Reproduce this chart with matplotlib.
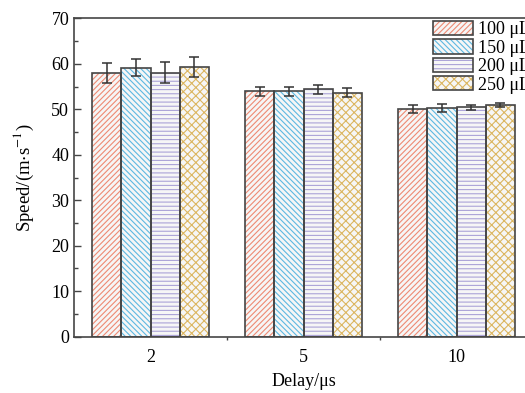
import numpy as np
import matplotlib
matplotlib.use("Agg")
import matplotlib.pyplot as plt
from matplotlib.patches import Patch
from matplotlib.legend_handler import HandlerTuple
from matplotlib.ticker import MultipleLocator, FixedLocator

plt.rcParams["font.family"] = ["Liberation Serif", "DejaVu Serif"]
plt.rcParams["mathtext.fontset"] = "stix"
plt.rcParams["hatch.linewidth"] = 0.8

delays = ["2", "5", "10"]
volumes = ["100 μL", "150 μL", "200 μL", "250 μL"]
speed = [
    [58.0, 54.0, 50.0],
    [59.1, 54.0, 50.3],
    [58.0, 54.4, 50.4],
    [59.3, 53.6, 50.9],
]
speed_err = [
    [2.25, 1.0, 0.9],
    [1.85, 1.0, 0.9],
    [2.3, 0.95, 0.5],
    [2.15, 1.0, 0.5],
]

hatch_colors = ["#ee8a73", "#5db8e2", "#aba3d8", "#dcb660"]
hatches = ["//////", "\\\\\\\\\\\\", "----", "xxxx"]
edge = "#454545"
face = "#f6f6f6"

fig = plt.figure(figsize=(5.25, 3.93), dpi=100)
ax = fig.add_axes([74 / 525, 56.3 / 393, 459 / 525, 318.4 / 393])

x = np.arange(len(delays))
w = 0.19
handles = []
for i in range(len(volumes)):
    pos = x + (i - 1.5) * w
    # hatch drawn in its own colour, outline drawn on top in dark grey
    ax.bar(pos, speed[i], w, color=face, edgecolor=hatch_colors[i],
           hatch=hatches[i], linewidth=0, zorder=2)
    ax.bar(pos, speed[i], w, fill=False, edgecolor=edge, linewidth=1.2, zorder=3)
    ax.errorbar(pos, speed[i], yerr=speed_err[i], fmt="none", ecolor="#333333",
                elinewidth=1.1, capsize=3.5, capthick=1.1, zorder=4)
    h1 = Patch(facecolor=face, edgecolor=hatch_colors[i], hatch=hatches[i], linewidth=0)
    h2 = Patch(fill=False, edgecolor=edge, linewidth=1.2)
    handles.append((h1, h2))

ax.set_xlim(-0.5, 2.5)
ax.set_ylim(0, 70)
ax.set_xticks(x)
ax.set_xticklabels(delays)
ax.xaxis.set_minor_locator(FixedLocator([0.5, 1.5]))
ax.tick_params(axis="x", which="major", length=0, labelsize=13, pad=9)
ax.tick_params(axis="x", which="minor", direction="out", length=2, width=1, color=edge)
ax.yaxis.set_major_locator(MultipleLocator(10))
ax.yaxis.set_minor_locator(MultipleLocator(5))
ax.tick_params(axis="y", which="major", direction="in", length=5, width=1,
               labelsize=13, color=edge)
ax.tick_params(axis="y", which="minor", direction="in", length=3, width=1, color=edge)
for s in ax.spines.values():
    s.set_color(edge)
    s.set_linewidth(1.2)

ax.set_xlabel("Delay/μs", fontsize=13, labelpad=5)
ax.set_ylabel("Speed/(m$\\cdot$s$^{-1}$)", fontsize=13.5, labelpad=11)

ax.legend(handles, volumes, handler_map={tuple: HandlerTuple(ndivide=1)},
          loc="upper left", bbox_to_anchor=(433 / 525, 1 - 21 / 393),
          bbox_transform=fig.transFigure, frameon=False, fontsize=13,
          borderpad=0, borderaxespad=0, handlelength=2.2, handleheight=0.85,
          handletextpad=0.3, labelspacing=0.05)

fig.savefig("out.png", dpi=100)
